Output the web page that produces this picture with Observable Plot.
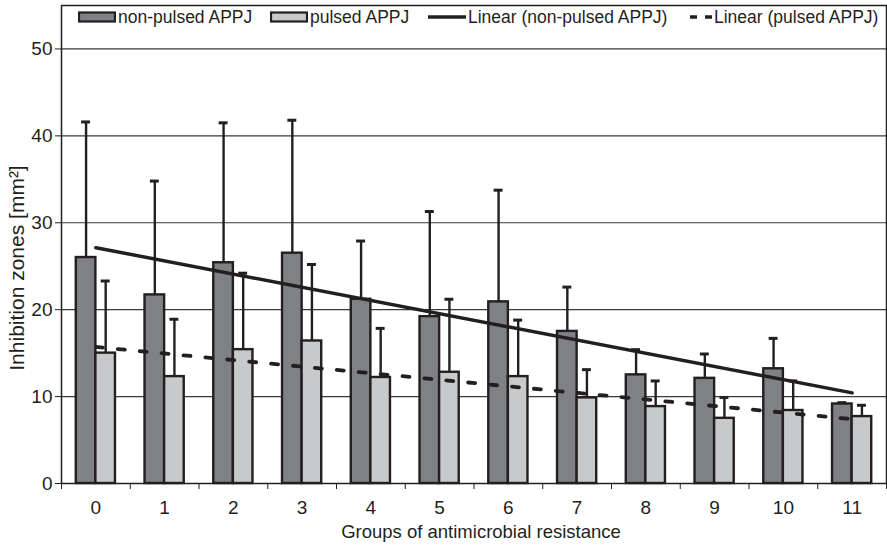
<!DOCTYPE html>
<html><head><meta charset="utf-8">
<script src="https://cdn.jsdelivr.net/npm/d3@7"></script>
<script src="https://cdn.jsdelivr.net/npm/@observablehq/plot@0.6"></script>
<style>
body{margin:0;background:#fff;}
#wrap{position:relative;width:887px;height:545px;font-family:"Liberation Sans",Arial,sans-serif;color:#231f20;}
#legend{position:absolute;left:0;top:0;width:887px;height:34px;font-size:17.5px;}
.item{position:absolute;top:7px;height:20px;display:flex;align-items:center;white-space:nowrap;}
.item svg{display:block;}
.title{position:absolute;white-space:nowrap;line-height:1;}
#xt{left:481px;top:532px;font-size:18.5px;transform:translate(-50%,-50%);}
#yt{left:16px;top:268px;font-size:21px;transform:translate(-50%,-50%) rotate(-90deg);}
</style></head><body><div id="wrap"><div id="chart"></div><div id="legend"></div><div class="title" id="xt"></div><div class="title" id="yt"></div></div>
<script>
const groups = [0,1,2,3,4,5,6,7,8,9,10,11];
const nonPulsed    = [26.0,21.7,25.4,26.5,21.2,19.2,20.9,17.5,12.5,12.1,13.2,9.15];
const nonPulsedErr = [41.6,34.8,41.5,41.8,27.9,31.3,33.75,22.6,15.4,14.9,16.7,9.3];
const pulsed       = [15.0,12.3,15.4,16.4,12.2,12.8,12.3,9.85,8.85,7.5,8.4,7.7];
const pulsedErr    = [23.3,18.9,24.2,25.2,17.85,21.2,18.8,13.1,11.8,9.9,11.8,9.0];
const seriesNames = ["non-pulsed APPJ","pulsed APPJ"];
const trendNames  = ["Linear (non-pulsed APPJ)","Linear (pulsed APPJ)"];
const yTicks = [0,10,20,30,40,50];
const xLabel = "Groups of antimicrobial resistance";
const yLabel = "Inhibition zones [mm²]";

const ink = "#231f20";
const fills = ["#808185","#c8c9cb"];
const BW = 0.285;

const rows = [];
groups.forEach((g,i)=>{
  rows.push({group:g, series:seriesNames[0], value:nonPulsed[i], err:nonPulsedErr[i], s:0});
  rows.push({group:g, series:seriesNames[1], value:pulsed[i], err:pulsedErr[i], s:1});
});
const x1 = d => d.s===0 ? d.group-BW : d.group;
const x2 = d => d.s===0 ? d.group : d.group+BW;
const xc = d => d.s===0 ? d.group-BW/2 : d.group+BW/2;
const bounds = d3.range(-0.5, 12, 1);

const chart = Plot.plot({
  width: 887, height: 545,
  marginLeft: 61, marginRight: 1, marginTop: 5, marginBottom: 62,
  style: {fontFamily: "Liberation Sans, Arial, sans-serif", fontSize: "19px", color: ink, background: "#fff"},
  x: {domain: [-0.5, 11.5]},
  y: {domain: [0, 55]},
  color: {domain: seriesNames, range: fills},
  marks: [
    Plot.ruleY(yTicks.filter(d=>d>0), {stroke:"#3a3a3a", strokeWidth:1.2}),
    Plot.rect(rows, {x1, x2, y1: 0, y2: "value", fill: "series", stroke: ink, strokeWidth: 2.4}),
    Plot.ruleX(rows, {x: xc, y1: "value", y2: "err", stroke: ink, strokeWidth: 2.4}),
    Plot.ruleY(rows, {y: "err", x1: d=>xc(d)-0.065, x2: d=>xc(d)+0.065, stroke: ink, strokeWidth: 3}),
    Plot.linearRegressionY(rows.filter(d=>d.s===0), {x: "group", y: "value", ci: 0, stroke: ink, strokeWidth: 3.5}),
    Plot.linearRegressionY(rows.filter(d=>d.s===1), {x: "group", y: "value", ci: 0, stroke: ink, strokeWidth: 3.8, strokeDasharray: "7,15"}),
    Plot.frame({stroke: ink, strokeWidth: 1.5}),
    Plot.axisY({ticks: yTicks, tickSize: 6, tickPadding: 3, fontSize: 19, stroke: ink, label: null}),
    Plot.axisX({ticks: groups, tickSize: 0, tickPadding: 17, fontSize: 19, label: null}),
    Plot.axisX({ticks: bounds, tickSize: 6, stroke: ink, tickFormat: () => "", label: null})
  ]
});
document.getElementById("chart").appendChild(chart);
document.getElementById("xt").textContent = xLabel;
document.getElementById("yt").textContent = yLabel;

// legend
const leg = document.getElementById("legend");
function item(left, svg, text){
  const d = document.createElement("div");
  d.className = "item"; d.style.left = left + "px";
  d.innerHTML = svg + `<span style="margin-left:2px">${text}</span>`;
  leg.appendChild(d);
}
const box = c => `<svg width="38" height="12"><rect x="1" y="1.5" width="36" height="9" fill="${c}" stroke="${ink}" stroke-width="2.2"/></svg>`;
item(78, box(fills[0]), seriesNames[0]);
item(270, box(fills[1]), seriesNames[1]);
item(428, `<svg width="38" height="12"><line x1="0" x2="38" y1="6" y2="6" stroke="${ink}" stroke-width="3.5"/></svg>`, trendNames[0]);
item(690, `<svg width="22" height="12"><line x1="0" x2="22" y1="6" y2="6" stroke="${ink}" stroke-width="3.5" stroke-dasharray="7,8"/></svg>`, trendNames[1]);
</script></body></html>
